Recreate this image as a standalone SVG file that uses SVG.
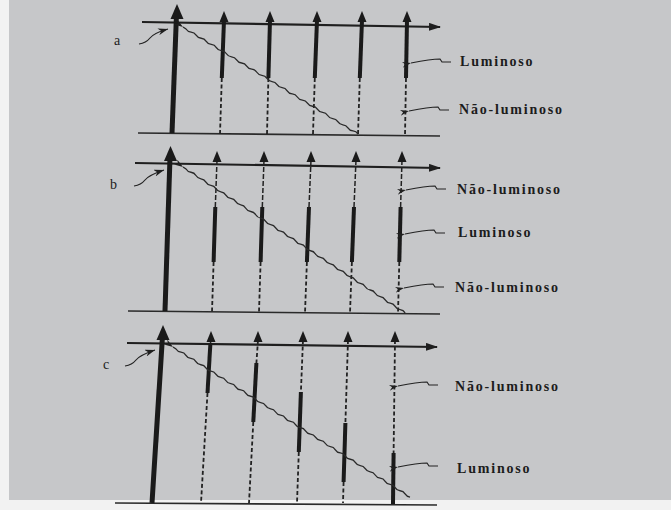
<svg xmlns="http://www.w3.org/2000/svg" xmlns:xlink="http://www.w3.org/1999/xlink" width="671" height="510" viewBox="0 0 671 510">
<style>
.ax{stroke:#1f1f1f;stroke-width:2.2;fill:none}
.base{stroke:#2a2a2a;stroke-width:1.6;fill:none}
.main{stroke:#1a1a1a;stroke-width:5;fill:none}
.sol{stroke:#1a1a1a;stroke-width:4;fill:none}
.dsh{stroke:#222;stroke-width:1.8;stroke-dasharray:4 2.5;fill:none}
.thin{stroke:#222;stroke-width:1.5;fill:none}
.wave{stroke:#2a2a2a;stroke-width:1.3;fill:none}
.ld{stroke:#222;stroke-width:1.2;fill:none}
.lb{font-family:"Liberation Serif",serif;font-size:14px;font-weight:bold;letter-spacing:1.8px;fill:#1c1c1c}
.pl{font-family:"Liberation Serif",serif;font-size:14px;fill:#1c1c1c}
.hd{fill:#1a1a1a}
</style>
<defs>
<path id="ah" d="M0 0 L-4.5 11 L4.5 11 Z"/>
<path id="ahB" d="M0 0 L-6.5 15 L6.5 15 Z"/>
<marker id="mR" viewBox="0 0 12 8" refX="11" refY="4" markerWidth="12" markerHeight="8" markerUnits="userSpaceOnUse" orient="auto"><path d="M0 0 L12 4 L0 8 Z" fill="#1f1f1f"/></marker>
<marker id="mS" viewBox="0 0 9 6" refX="0" refY="3" markerWidth="9" markerHeight="6" markerUnits="userSpaceOnUse" orient="auto-start-reverse"><path d="M0 3 L9 0 L6 3 L9 6 Z" fill="#1f1f1f"/></marker>
<marker id="mE" viewBox="0 0 10 7" refX="10" refY="3.5" markerWidth="10" markerHeight="7" markerUnits="userSpaceOnUse" orient="auto"><path d="M10 3.5 L0 0 L3 3.5 L0 7 Z" fill="#1f1f1f"/></marker>
</defs>
<rect width="671" height="510" fill="#f2f2f2"/>
<rect x="9" y="0" width="662" height="500" fill="#c6c7c9"/>

<g id="panel-a">
<line class="ax" x1="142" y1="22" x2="440" y2="27" marker-end="url(#mR)"/>
<line class="base" x1="138" y1="133" x2="440" y2="136"/>
<line class="main" x1="176.5" y1="14" x2="172" y2="133"/>
<use href="#ahB" x="177" y="4" class="hd"/>
<line class="sol" x1="224" y1="20" x2="221.8" y2="78"/><line class="dsh" x1="221.8" y1="78" x2="220" y2="134"/><use href="#ah" x="224" y="11" class="hd"/>
<line class="sol" x1="270" y1="20" x2="268.4" y2="78"/><line class="dsh" x1="268.4" y1="78" x2="267" y2="134"/><use href="#ah" x="270" y="11" class="hd"/>
<line class="sol" x1="317" y1="20" x2="314.8" y2="78"/><line class="dsh" x1="314.8" y1="78" x2="313" y2="134"/><use href="#ah" x="317" y="11" class="hd"/>
<line class="sol" x1="362" y1="20" x2="359.8" y2="78"/><line class="dsh" x1="359.8" y1="78" x2="358" y2="135"/><use href="#ah" x="362" y="11" class="hd"/>
<line class="sol" x1="407" y1="20" x2="406" y2="78"/><line class="dsh" x1="406" y1="78" x2="405" y2="136"/><use href="#ah" x="407" y="11" class="hd"/>
<path class="wave" marker-start="url(#mS)" d="M183 27 l3 2 q1.75 2.83 5.06 3.09 t5.06 3.09 t5.06 3.09 t5.06 3.09 t5.06 3.09 t5.06 3.09 t5.06 3.09 t5.06 3.09 t5.06 3.09 t5.06 3.09 t5.06 3.09 t5.06 3.09 t5.06 3.09 t5.06 3.09 t5.06 3.09 t5.06 3.09 t5.06 3.09 t5.06 3.09 t5.06 3.09 t5.06 3.09 t5.06 3.09 t5.06 3.09 t5.06 3.09 t5.06 3.09 t5.06 3.09 t5.06 3.09 t5.06 3.09 t5.06 3.09 t5.06 3.09 t5.06 3.09 t5.06 3.09 t5.06 3.09 t5.06 3.09 t5.06 3.09"/>
<path class="ld" marker-end="url(#mE)" d="M139 44 q7 -1 11 -6 q4 -5 18 -9"/>
<text class="pl" x="114" y="45">a</text>
</g>

<g id="panel-b">
<line class="ax" x1="135" y1="163" x2="440" y2="168" marker-end="url(#mR)"/>
<line class="base" x1="128" y1="311" x2="440" y2="314"/>
<line class="main" x1="170" y1="157" x2="165" y2="311"/>
<use href="#ahB" x="170.5" y="146" class="hd"/>
<line class="thin" x1="217" y1="160" x2="215.3" y2="207" stroke-dasharray="5 2"/><line class="sol" x1="215.3" y1="207" x2="213.6" y2="262"/><line class="dsh" x1="213.6" y1="262" x2="212" y2="312"/><use href="#ah" x="217" y="151" class="hd"/>
<line class="thin" x1="264" y1="160" x2="262.3" y2="207" stroke-dasharray="5 2"/><line class="sol" x1="262.3" y1="207" x2="260.6" y2="262"/><line class="dsh" x1="260.6" y1="262" x2="259" y2="312"/><use href="#ah" x="264" y="151" class="hd"/>
<line class="thin" x1="311" y1="160" x2="309" y2="207" stroke-dasharray="5 2"/><line class="sol" x1="309" y1="207" x2="306.9" y2="262"/><line class="dsh" x1="306.9" y1="262" x2="305" y2="313"/><use href="#ah" x="311" y="151" class="hd"/>
<line class="thin" x1="356" y1="160" x2="354" y2="207" stroke-dasharray="5 2"/><line class="sol" x1="354" y1="207" x2="351.9" y2="262"/><line class="dsh" x1="351.9" y1="262" x2="350" y2="313"/><use href="#ah" x="356" y="151" class="hd"/>
<line class="thin" x1="402" y1="160" x2="400.6" y2="207" stroke-dasharray="5 2"/><line class="sol" x1="400.6" y1="207" x2="399.3" y2="262"/><line class="dsh" x1="399.3" y1="262" x2="398" y2="314"/><use href="#ah" x="402" y="151" class="hd"/>
<path class="wave" marker-start="url(#mS)" d="M183 167 l3 2 q1.67 2.89 4.98 3.27 t4.98 3.27 t4.98 3.27 t4.98 3.27 t4.98 3.27 t4.98 3.27 t4.98 3.27 t4.98 3.27 t4.98 3.27 t4.98 3.27 t4.98 3.27 t4.98 3.27 t4.98 3.27 t4.98 3.27 t4.98 3.27 t4.98 3.27 t4.98 3.27 t4.98 3.27 t4.98 3.27 t4.98 3.27 t4.98 3.27 t4.98 3.27 t4.98 3.27 t4.98 3.27 t4.98 3.27 t4.98 3.27 t4.98 3.27 t4.98 3.27 t4.98 3.27 t4.98 3.27 t4.98 3.27 t4.98 3.27 t4.98 3.27 t4.98 3.27 t4.98 3.27 t4.98 3.27 t4.98 3.27 t4.98 3.27 t4.98 3.27 t4.98 3.27 t4.98 3.27 t4.98 3.27 t4.98 3.27 t4.98 3.27"/>
<path class="ld" marker-end="url(#mE)" d="M134 186 q7 -1 11 -6 q4 -5 19 -10"/>
<text class="pl" x="110" y="189">b</text>
</g>

<g id="panel-c">
<line class="ax" x1="127" y1="343" x2="437" y2="347" marker-end="url(#mR)"/>
<line class="base" x1="115" y1="503" x2="437" y2="505"/>
<line class="main" x1="162.5" y1="336" x2="152" y2="503"/>
<use href="#ahB" x="163" y="325" class="hd"/>
<line class="thin" x1="211" y1="340" x2="210.4" y2="343"/><line class="sol" x1="210.4" y1="343" x2="207.5" y2="393"/><line class="dsh" x1="207.5" y1="393" x2="201" y2="503"/><use href="#ah" x="211" y="331" class="hd"/>
<line class="dsh" x1="258" y1="340" x2="256.4" y2="363"/><line class="sol" x1="256.4" y1="363" x2="253.3" y2="422"/><line class="dsh" x1="253.3" y1="422" x2="249" y2="503"/><use href="#ah" x="258" y="331" class="hd"/>
<line class="dsh" x1="303" y1="340" x2="300.9" y2="392"/><line class="sol" x1="300.9" y1="392" x2="298.8" y2="452"/><line class="dsh" x1="298.8" y1="452" x2="297" y2="503"/><use href="#ah" x="303" y="331" class="hd"/>
<line class="dsh" x1="348" y1="340" x2="345.4" y2="423"/><line class="sol" x1="345.4" y1="423" x2="343.6" y2="482"/><line class="dsh" x1="343.6" y1="482" x2="343" y2="503"/><use href="#ah" x="348" y="331" class="hd"/>
<line class="dsh" x1="395" y1="340" x2="393.6" y2="453"/><line class="sol" x1="393.6" y1="453" x2="393" y2="504"/><use href="#ah" x="395" y="331" class="hd"/>
<path class="wave" marker-start="url(#mS)" d="M173 347 l3 2 q1.69 2.84 4.98 3.15 t4.98 3.15 t4.98 3.15 t4.98 3.15 t4.98 3.15 t4.98 3.15 t4.98 3.15 t4.98 3.15 t4.98 3.15 t4.98 3.15 t4.98 3.15 t4.98 3.15 t4.98 3.15 t4.98 3.15 t4.98 3.15 t4.98 3.15 t4.98 3.15 t4.98 3.15 t4.98 3.15 t4.98 3.15 t4.98 3.15 t4.98 3.15 t4.98 3.15 t4.98 3.15 t4.98 3.15 t4.98 3.15 t4.98 3.15 t4.98 3.15 t4.98 3.15 t4.98 3.15 t4.98 3.15 t4.98 3.15 t4.98 3.15 t4.98 3.15 t4.98 3.15 t4.98 3.15 t4.98 3.15 t4.98 3.15 t4.98 3.15 t4.98 3.15 t4.98 3.15 t4.98 3.15 t4.98 3.15 t4.98 3.15 t4.98 3.15 t4.98 3.15 t4.98 3.15"/>
<path class="ld" marker-end="url(#mE)" d="M125 366 q7 -1 11 -6 q4 -5 19 -10"/>
<text class="pl" x="103" y="369">c</text>
</g>

<g id="labels">
<path class="ld" marker-start="url(#mS)" d="M411 63 c10 -2 20 -4 29 -4 l2 3 l9 0"/>
<text class="lb" x="460" y="66">Luminoso</text>
<path class="ld" marker-start="url(#mS)" d="M409 111 c10 -2 20 -4 29 -4 l2 3 l9 0"/>
<text class="lb" x="459" y="114">Não-luminoso</text>
<path class="ld" marker-start="url(#mS)" d="M406 190 c10 -2 20 -4 29 -4 l2 3 l9 0"/>
<text class="lb" x="457" y="194">Não-luminoso</text>
<path class="ld" marker-start="url(#mS)" d="M405 234 c10 -2 20 -4 29 -4 l2 3 l9 0"/>
<text class="lb" x="458" y="237">Luminoso</text>
<path class="ld" marker-start="url(#mS)" d="M404 288 c10 -2 20 -4 29 -4 l2 3 l9 0"/>
<text class="lb" x="455" y="292">Não-luminoso</text>
<path class="ld" marker-start="url(#mS)" d="M398 386 c10 -2 20 -4 29 -4 l2 3 l9 0"/>
<text class="lb" x="455" y="391">Não-luminoso</text>
<path class="ld" marker-start="url(#mS)" d="M398 467 c10 -2 20 -4 29 -4 l2 3 l9 0"/>
<text class="lb" x="457" y="473">Luminoso</text>
</g>
</svg>
